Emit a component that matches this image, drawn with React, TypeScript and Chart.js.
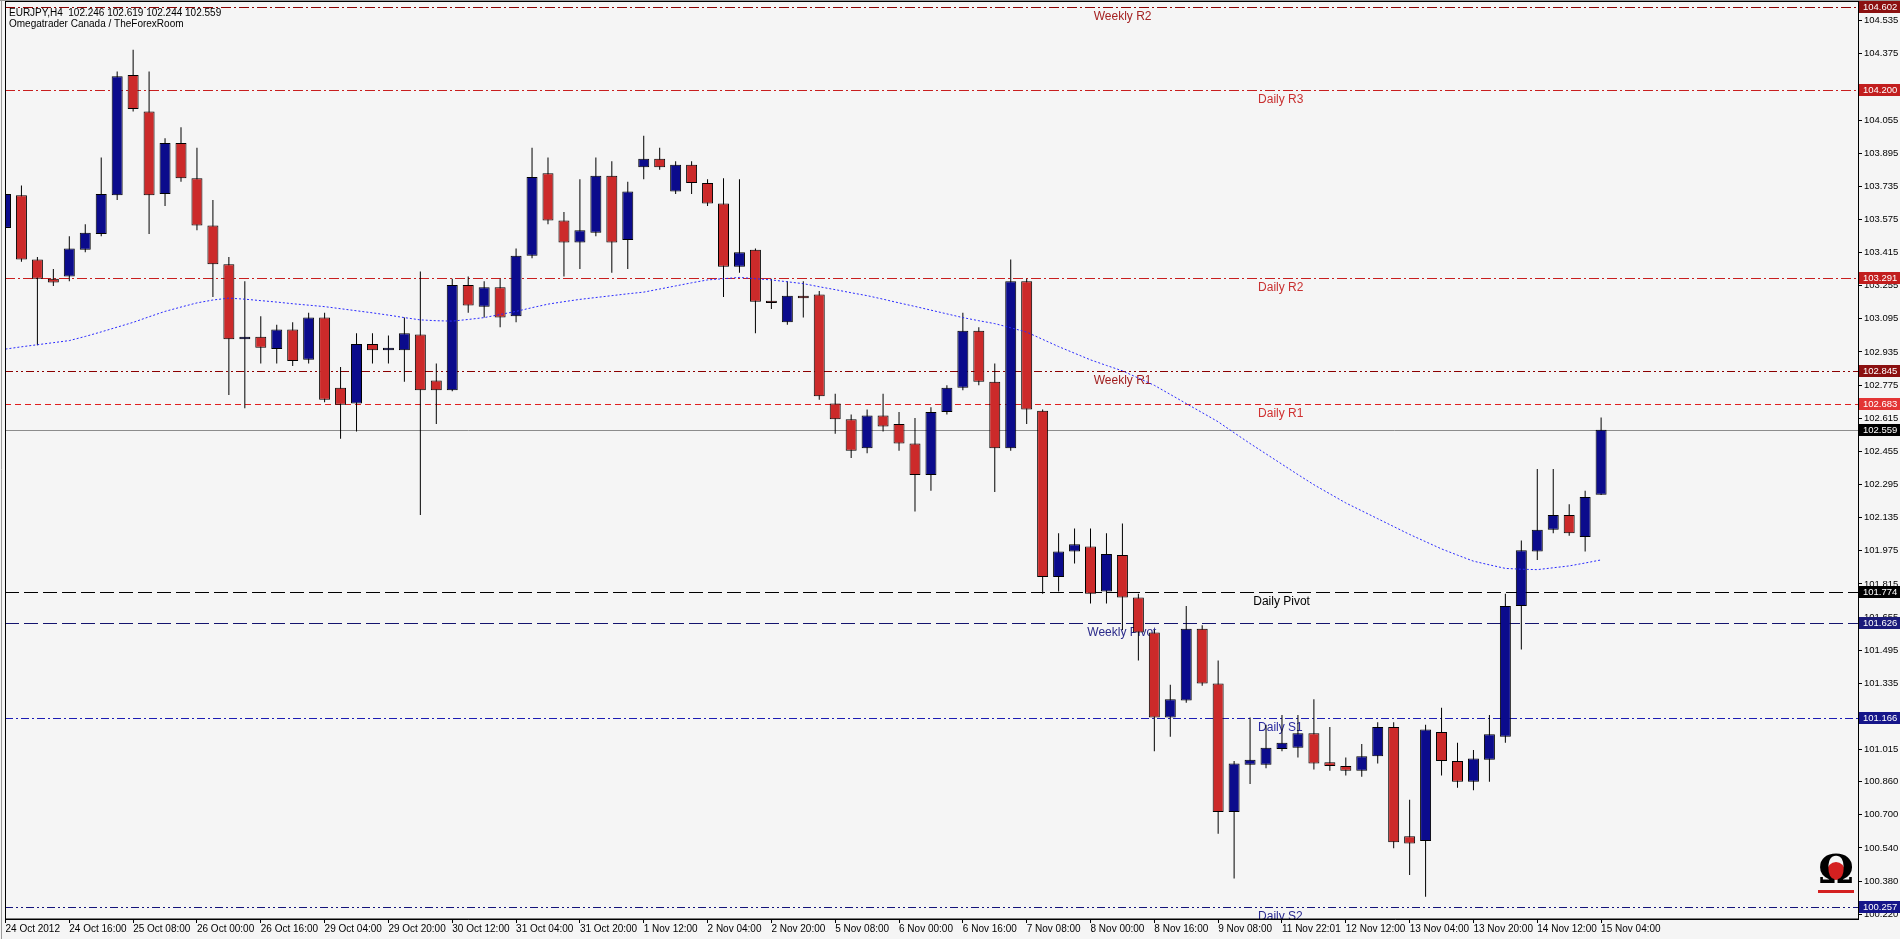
import React, { useEffect, useRef } from "react";
import { Chart, registerables } from "chart.js";
Chart.register(...registerables);

// ---------------- DATA ----------------
const symbolName = "EURJPY,H4";
const subtitle = "Omegatrader Canada / TheForexRoom";

const opens = [
  103.534, 103.692, 103.382, 103.289, 103.300, 103.429, 103.505, 103.692, 104.272, 104.096,
  103.698, 103.944, 103.774, 103.546, 103.359, 102.996, 103.008, 102.949, 103.043, 102.897,
  103.101, 102.762, 102.686, 102.973, 102.943, 102.943, 103.020, 102.797, 102.750, 103.259,
  103.154, 103.248, 103.107, 103.400, 103.798, 103.570, 103.464, 103.511, 103.786, 103.476,
  103.827, 103.868, 103.710, 103.839, 103.751, 103.652, 103.347, 103.429, 103.183, 103.078,
  103.207, 103.213, 102.686, 102.610, 102.470, 102.628, 102.587, 102.493, 102.341, 102.645,
  102.762, 103.037, 102.791, 102.470, 103.277, 102.651, 101.849, 101.972, 101.996, 101.779,
  101.955, 101.750, 101.580, 101.170, 101.252, 101.598, 101.334, 100.714, 100.942, 100.942,
  101.018, 101.024, 101.094, 100.954, 100.936, 100.913, 100.983, 101.124, 100.597, 100.574,
  101.100, 100.960, 100.860, 100.966, 101.077, 101.709, 101.972, 102.077, 102.148, 102.042,
  102.246,
];
const highs = [
  103.798, 103.739, 103.394, 103.336, 103.494, 103.552, 103.874, 104.289, 104.395, 104.289,
  103.967, 104.020, 103.921, 103.669, 103.394, 103.277, 103.107, 103.066, 103.078, 103.125,
  103.125, 102.862, 103.025, 103.025, 103.014, 103.101, 103.324, 102.879, 103.289, 103.300,
  103.277, 103.289, 103.435, 103.921, 103.874, 103.611, 103.769, 103.874, 103.856, 103.757,
  103.979, 103.921, 103.856, 103.856, 103.769, 103.774, 103.769, 103.435, 103.289, 103.277,
  103.277, 103.230, 102.733, 102.633, 102.657, 102.733, 102.645, 102.616, 102.668, 102.774,
  103.125, 103.055, 102.879, 103.382, 103.289, 102.657, 102.060, 102.083, 102.083, 102.060,
  102.107, 101.767, 101.592, 101.328, 101.709, 101.615, 101.445, 100.960, 101.170, 101.135,
  101.182, 101.182, 101.258, 101.124, 100.977, 101.042, 101.147, 101.147, 100.773, 101.135,
  101.217, 101.048, 101.013, 101.182, 101.767, 102.025, 102.370, 102.370, 102.200, 102.265,
  102.619,
];
const lows = [
  103.523, 103.371, 102.967, 103.254, 103.277, 103.417, 103.494, 103.669, 104.096, 103.505,
  103.640, 103.757, 103.523, 103.201, 102.727, 102.663, 102.879, 102.879, 102.867, 102.879,
  102.692, 102.516, 102.551, 102.879, 102.879, 102.791, 102.148, 102.587, 102.745, 103.125,
  103.101, 103.055, 103.078, 103.388, 103.552, 103.300, 103.336, 103.494, 103.318, 103.336,
  103.769, 103.815, 103.698, 103.698, 103.640, 103.201, 103.318, 103.025, 103.142, 103.066,
  103.101, 102.704, 102.540, 102.423, 102.446, 102.551, 102.458, 102.165, 102.265, 102.633,
  102.750, 102.774, 102.259, 102.458, 102.587, 101.767, 101.779, 101.914, 101.720, 101.720,
  101.592, 101.445, 101.007, 101.077, 101.241, 101.323, 100.609, 100.392, 100.849, 100.925,
  101.007, 100.977, 100.919, 100.913, 100.890, 100.884, 100.948, 100.539, 100.410, 100.304,
  100.890, 100.831, 100.819, 100.860, 101.048, 101.498, 101.931, 102.060, 102.048, 101.972,
  102.244,
];
const closes = [
  103.698, 103.382, 103.289, 103.271, 103.435, 103.511, 103.698, 104.266, 104.108, 103.692,
  103.944, 103.774, 103.546, 103.359, 102.996, 103.008, 102.955, 103.043, 102.891, 103.101,
  102.704, 102.680, 102.973, 102.943, 102.955, 103.025, 102.750, 102.750, 103.259, 103.160,
  103.248, 103.101, 103.400, 103.780, 103.570, 103.464, 103.523, 103.786, 103.464, 103.710,
  103.868, 103.827, 103.839, 103.751, 103.652, 103.347, 103.417, 103.178, 103.172, 103.207,
  103.195, 102.721, 102.610, 102.458, 102.628, 102.575, 102.493, 102.341, 102.645, 102.762,
  103.037, 102.791, 102.470, 103.277, 102.657, 101.849, 101.972, 102.007, 101.767, 101.960,
  101.750, 101.580, 101.170, 101.258, 101.598, 101.334, 100.714, 100.948, 100.966, 101.024,
  101.048, 101.094, 100.948, 100.936, 100.913, 100.983, 101.124, 100.568, 100.562, 101.112,
  100.960, 100.860, 100.972, 101.089, 101.709, 101.978, 102.077, 102.148, 102.060, 102.235,
  102.559,
];
const movingAverage = [
  102.949, 102.960, 102.970, 102.980, 102.990, 103.010, 103.032, 103.055, 103.078, 103.105,
  103.131, 103.152, 103.172, 103.186, 103.195, 103.190, 103.183, 103.176, 103.168, 103.161,
  103.154, 103.144, 103.134, 103.124, 103.113, 103.101, 103.090, 103.086, 103.084, 103.092,
  103.101, 103.116, 103.131, 103.149, 103.166, 103.178, 103.189, 103.198, 103.207, 103.216,
  103.224, 103.239, 103.254, 103.269, 103.283, 103.289, 103.295, 103.289, 103.283, 103.274,
  103.265, 103.250, 103.236, 103.221, 103.207, 103.190, 103.172, 103.155, 103.137, 103.119,
  103.101, 103.086, 103.072, 103.052, 103.031, 102.996, 102.961, 102.929, 102.897, 102.870,
  102.844, 102.809, 102.774, 102.730, 102.686, 102.642, 102.598, 102.545, 102.493, 102.443,
  102.393, 102.343, 102.294, 102.250, 102.206, 102.168, 102.130, 102.092, 102.054, 102.019,
  101.984, 101.954, 101.925, 101.907, 101.890, 101.886, 101.884, 101.893, 101.902, 101.916,
  101.931,
];

const timeLabels = [
  "24 Oct 2012", "24 Oct 16:00", "25 Oct 08:00", "26 Oct 00:00", "26 Oct 16:00",
  "29 Oct 04:00", "29 Oct 20:00", "30 Oct 12:00", "31 Oct 04:00", "31 Oct 20:00",
  "1 Nov 12:00", "2 Nov 04:00", "2 Nov 20:00", "5 Nov 08:00", "6 Nov 00:00",
  "6 Nov 16:00", "7 Nov 08:00", "8 Nov 00:00", "8 Nov 16:00", "9 Nov 08:00",
  "11 Nov 22:01", "12 Nov 12:00", "13 Nov 04:00", "13 Nov 20:00", "14 Nov 12:00",
  "15 Nov 04:00",
];
const barsPerTimeLabel = 4;

const priceTicks = [
  104.535, 104.375, 104.215, 104.055, 103.895, 103.735, 103.575, 103.415, 103.255, 103.095,
  102.935, 102.775, 102.615, 102.455, 102.295, 102.135, 101.975, 101.815, 101.655, 101.495,
  101.335, 101.175, 101.015, 100.86, 100.7, 100.54, 100.38, 100.22,
];
const priceTickLabels = [
  "104.535", "104.375", "104.215", "104.055", "103.895", "103.735", "103.575", "103.415", "103.255", "103.095",
  "102.935", "102.775", "102.615", "102.455", "102.295", "102.135", "101.975", "101.815", "101.655", "101.495",
  "101.335", "101.175", "101.015", "100.860", "100.700", "100.540", "100.380", "100.220",
];

const levelNames = ["Weekly R2", "Daily R3", "Daily R2", "Weekly R1", "Daily R1", "Daily Pivot", "Weekly Pivot", "Daily S1", "Daily S2"];
const levelValues = [104.602, 104.2, 103.291, 102.845, 102.683, 101.774, 101.626, 101.166, 100.257];

// ---------------- STYLE ----------------
const FONT = '"Liberation Sans", Arial, sans-serif';
const BG = "#f5f5f5";
const BULL = "#0b0b8c";
const BEAR = "#cc2a2a";
const Y_MIN = 100.197;
const Y_MAX = 104.625;
const X_MIN = -0.03;
const X_MAX = 116.1;

const LEVEL_STYLES = [
  { line: "#8b0000", dash: [10, 3, 2, 3], text: "#a52222", box: "#8b1010", at: 68.2 },
  { line: "#c81e1e", dash: [10, 3, 2, 3], text: "#c83030", box: "#c21e1e", at: 78.5 },
  { line: "#c81e1e", dash: [10, 3, 2, 3], text: "#c83030", box: "#c21e1e", at: 78.5 },
  { line: "#8b0000", dash: [8, 3, 2, 3, 2, 3], text: "#9e1a1a", box: "#8b1010", at: 68.2 },
  { line: "#e01e1e", dash: [6, 4], text: "#d03030", box: "#e33535", at: 78.5 },
  { line: "#000000", dash: [14, 5], text: "#000000", box: "#000000", at: 78.2 },
  { line: "#14146e", dash: [14, 5], text: "#2a2a8a", box: "#1a1a7a", at: 67.8 },
  { line: "#1c1cb4", dash: [8, 3, 2, 3], text: "#2a2aa0", box: "#15158a", at: 78.5 },
  { line: "#14147a", dash: [8, 3, 2, 3, 2, 3], text: "#2a2a90", box: "#15158a", at: 78.5 },
];

const lastIndex = closes.length - 1;
const currentPrice = closes[lastIndex];
const headerText =
  symbolName + "  " + [opens[lastIndex], highs[lastIndex], lows[lastIndex], closes[lastIndex]].map((v) => v.toFixed(3)).join(" ");

const mtPlugin = {
  id: "mtDecor",
  beforeDraw(chart: any) {
    const { ctx, width, height } = chart;
    ctx.save();
    ctx.fillStyle = BG;
    ctx.fillRect(0, 0, width, height);
    ctx.restore();
  },
  beforeDatasetsDraw(chart: any) {
    const { ctx, chartArea: a, scales } = chart;
    const x = scales.x, y = scales.y;
    ctx.save();
    ctx.beginPath();
    ctx.rect(a.left, a.top, a.right - a.left, a.bottom - a.top);
    ctx.clip();
    const cy = Math.round(y.getPixelForValue(currentPrice)) + 0.5;
    ctx.strokeStyle = "#8c8c8c";
    ctx.lineWidth = 1;
    ctx.beginPath();
    ctx.moveTo(a.left, cy);
    ctx.lineTo(a.right, cy);
    ctx.stroke();
    levelValues.forEach((v, k) => {
      const st = LEVEL_STYLES[k];
      const py = Math.round(y.getPixelForValue(v)) + 0.5;
      ctx.strokeStyle = st.line;
      ctx.setLineDash(st.dash);
      ctx.beginPath();
      ctx.moveTo(a.left, py);
      ctx.lineTo(a.right, py);
      ctx.stroke();
      ctx.setLineDash([]);
      ctx.fillStyle = st.text;
      ctx.font = "12px " + FONT;
      ctx.textBaseline = "top";
      ctx.textAlign = "left";
      ctx.fillText(levelNames[k], x.getPixelForValue(st.at), py + 3);
    });
    ctx.restore();
  },
  afterDraw(chart: any) {
    const { ctx, chartArea: a, scales, width, height } = chart;
    const y = scales.y;
    ctx.save();
    ctx.fillStyle = "#000";
    ctx.font = "10px " + FONT;
    ctx.textBaseline = "top";
    ctx.textAlign = "left";
    ctx.fillText(headerText, 9, 8);
    ctx.fillText(subtitle, 9, 19);
    ctx.strokeStyle = "#000";
    ctx.lineWidth = 1;
    ctx.strokeRect(Math.round(a.left) + 0.5, Math.round(a.top) - 0.5, Math.round(a.right - a.left), Math.round(a.bottom - a.top) + 0.5);
    ctx.strokeStyle = "#9a9a9a";
    ctx.beginPath();
    ctx.moveTo(1.5, 0);
    ctx.lineTo(1.5, height);
    ctx.moveTo(0, 0.5);
    ctx.lineTo(width, 0.5);
    ctx.stroke();
    const boxes = levelValues.map((v, k) => ({ v, c: LEVEL_STYLES[k].box }));
    boxes.push({ v: currentPrice, c: "#000000" });
    ctx.font = "9.5px " + FONT;
    ctx.textBaseline = "middle";
    boxes.forEach((b) => {
      const py = Math.round(y.getPixelForValue(b.v));
      ctx.fillStyle = b.c;
      ctx.fillRect(a.right + 1, py - 6, width - a.right - 1, 12);
      ctx.fillStyle = "#ffffff";
      ctx.fillText(b.v.toFixed(3), a.right + 5, py + 0.5);
    });
    const lx = a.right - 22, ly = a.bottom - 48;
    ctx.fillStyle = "#d42020";
    ctx.beginPath();
    ctx.arc(lx, ly, 9, 0, Math.PI * 2);
    ctx.fill();
    ctx.fillStyle = "#000";
    ctx.font = "bold 40px \"DejaVu Serif\", serif";
    ctx.textAlign = "center";
    ctx.textBaseline = "middle";
    ctx.fillText("\u03A9", lx, ly + 2);
    ctx.fillStyle = "#d42020";
    ctx.fillRect(lx - 18, ly + 19, 36, 3);
    ctx.restore();
  },
};

export default function App() {
  const ref = useRef<HTMLCanvasElement>(null);
  useEffect(() => {
    document.body.style.margin = "0";
    const idx = closes.map((_, i) => i);
    const bodyColors = idx.map((i) => (closes[i] >= opens[i] ? BULL : BEAR));
    const chart = new Chart(ref.current as HTMLCanvasElement, {
      type: "bar",
      data: {
        datasets: [
          {
            type: "line",
            data: idx.map((i) => ({ x: i, y: movingAverage[i] })),
            borderColor: "#2a2aff",
            borderWidth: 1,
            borderDash: [2, 2],
            pointRadius: 0,
            tension: 0,
            order: 0,
          } as any,
          {
            data: idx.map((i) => ({ x: i, y: [opens[i], closes[i]] })),
            backgroundColor: bodyColors,
            borderColor: "#000",
            borderWidth: 1,
            borderSkipped: false,
            barThickness: 11,
            grouped: false,
            inflateAmount: 0,
            order: 1,
          } as any,
          {
            data: idx.map((i) => ({ x: i, y: [lows[i], highs[i]] })),
            backgroundColor: "#000",
            borderWidth: 0,
            barThickness: 1,
            grouped: false,
            inflateAmount: 0,
            order: 2,
          } as any,
        ],
      },
      options: {
        animation: false,
        responsive: true,
        maintainAspectRatio: false,
        layout: { padding: { left: 5, top: 2, right: 0, bottom: 0 } },
        plugins: { legend: { display: false }, tooltip: { enabled: false } },
        scales: {
          x: {
            type: "linear",
            offset: false,
            min: X_MIN,
            max: X_MAX,
            position: "bottom",
            afterBuildTicks: (s: any) => {
              s.ticks = timeLabels.map((_, k) => ({ value: k * barsPerTimeLabel }));
            },
            afterFit: (s: any) => {
              s.height = 20;
              s.paddingLeft = 0;
              s.paddingRight = 0;
            },
            ticks: {
              autoSkip: false,
              maxRotation: 0,
              minRotation: 0,
              align: "start",
              color: "#000",
              padding: 0,
              font: { family: FONT, size: 10 },
              callback: (_v: any, k: number) => timeLabels[k],
            },
            grid: { offset: false, drawOnChartArea: false, drawTicks: true, tickLength: 4, color: "#000" },
            border: { display: true, color: "#000" },
          },
          y: {
            type: "linear",
            position: "right",
            min: Y_MIN,
            max: Y_MAX,
            afterBuildTicks: (s: any) => {
              s.ticks = priceTicks.map((v) => ({ value: v }));
            },
            afterFit: (s: any) => {
              s.width = 42;
              s.paddingTop = 0;
              s.paddingBottom = 0;
            },
            ticks: {
              autoSkip: false,
              color: "#000",
              padding: 2,
              font: { family: FONT, size: 9.5 },
              callback: (_v: any, k: number) => priceTickLabels[k],
            },
            grid: { drawOnChartArea: false, drawTicks: true, tickLength: 4, color: "#000" },
            border: { display: true, color: "#000" },
          },
        },
      } as any,
      plugins: [mtPlugin as any],
    });
    return () => chart.destroy();
  }, []);
  return (
    <div style={{ position: "fixed", left: 0, top: 0, width: 1900, height: 939, background: BG }}>
      <canvas ref={ref} />
    </div>
  );
}
